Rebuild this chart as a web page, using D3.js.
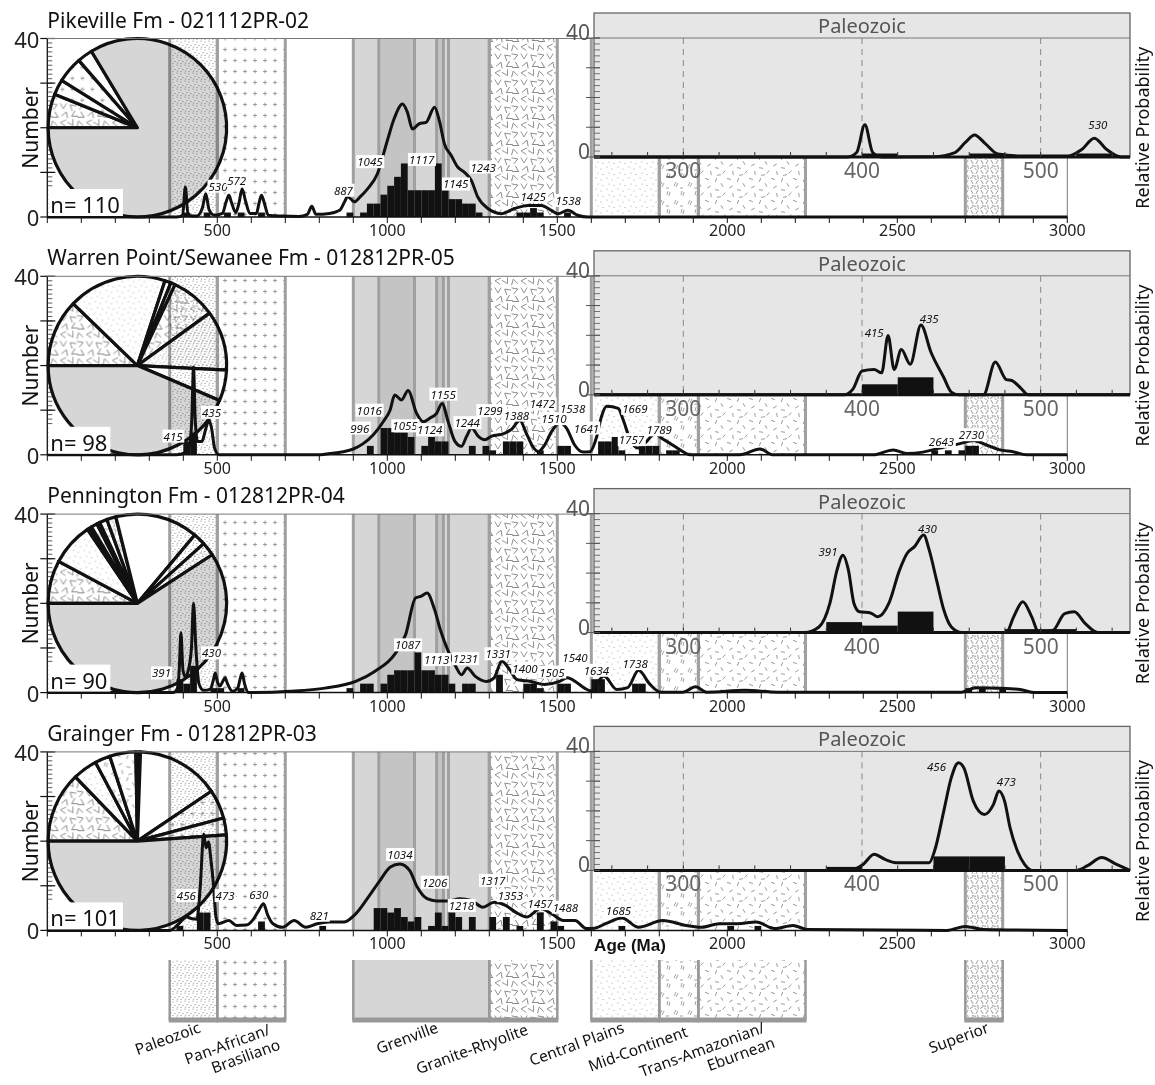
<!DOCTYPE html>
<html>
<head>
<meta charset="utf-8">
<script src="https://cdn.jsdelivr.net/npm/d3@7"></script>
<style>
  body { margin: 0; background: #fff; }
  svg { font-family: "Noto Sans", "Open Sans", sans-serif; }
</style>
</head>
<body>
<svg id="chart" width="1155" height="1085"></svg>
<script>
// ---------------- data ----------------
const ageTicks = [500, 1000, 1500, 2000, 2500, 3000]
const insetTicks = [300, 400, 500]
const binWidth = 20

const provinceNames = ['Paleozoic', 'Pan-African/Brasiliano', 'Grenville', 'Granite-Rhyolite',
  'Central Plains', 'Mid-Continent', 'Trans-Amazonian/Eburnean', 'Superior']
const provinceStart = [360, 500, 900, 1300, 1600, 1800, 1915, 2700]
const provinceEnd = [500, 700, 1300, 1500, 1800, 1915, 2230, 2810]
const provinceFill = ['paleo', 'panaf', 'grenville', 'granite', 'central', 'mid', 'trans', 'superior']
const legendLines = [['Paleozoic'], ['Pan-African/', 'Brasiliano'], ['Grenville'], ['Granite-Rhyolite'],
  ['Central Plains'], ['Mid-Continent'], ['Trans-Amazonian/', 'Eburnean'], ['Superior']]
const grenvilleDark = [[975, 1080], [1145, 1165]]
const grenvilleEdges = [975, 1080, 1145, 1165, 1180]

const titles = ['Pikeville Fm - 021112PR-02', 'Warren Point/Sewanee Fm - 012812PR-05',
  'Pennington Fm - 012812PR-04', 'Grainger Fm - 012812PR-03']
const nValues = [110, 98, 90, 101]

// Pikeville
const pikevilleCurve = [[0,0],[380,0],[398,0.4],[406,6.7],[414,0.4],[440,0.2],[456,2],[466,5.2],[476,1.6],[492,0.4],[515,0.8],[526,3.4],[534,4.9],[542,3.2],[554,1],[564,3.2],[573,6.3],[583,3.6],[596,0.8],[615,0.8],[623,3.2],[630,4.9],[638,3.2],[650,0.4],[690,0.2],[740,0.1],[765,0.6],[778,2.4],[790,0.6],[830,0.8],[860,1.5],[875,3.5],[883,4.6],[893,4],[903,3.4],[920,4.5],[942,6.3],[971,9.7],[1000,17.1],[1020,22],[1045,25.3],[1059,23.5],[1074,19.7],[1094,20.9],[1114,21.2],[1139,24.6],[1153,21.6],[1168,16.4],[1188,13.8],[1207,11.2],[1227,10],[1247,8.2],[1266,4.5],[1296,1.9],[1335,0.75],[1374,1.9],[1414,2.6],[1453,2.6],[1482,1.5],[1502,0.75],[1531,1.5],[1560,0.4],[1590,0],[3000,0]]
const pikevilleBars = [[400,1],[460,1],[520,1],[560,1],[620,1],[880,1],[920,1],[940,3],[960,3],[980,5],[1000,7],[1020,9],[1040,12],[1060,6],[1080,6],[1100,6],[1120,6],[1140,12],[1160,6],[1180,4],[1200,4],[1220,3],[1240,3],[1260,1],[1380,1],[1400,1],[1420,2],[1440,1],[1520,1]]
const pikevilleInset = [[250,0],[392,0],[397,1.5],[401.6,10.8],[406,1.5],[411,0],[440,0.1],[452,1.5],[458,5],[463,7.4],[469,4.5],[476,1],[490,0.3],[515,0.3],[523,2.5],[530,6.3],[537,2.5],[545,0],[550,0]]
const pikevillePie = [['granite',270,292],['panaf',292,302],['panaf',302,319],['blank',319,329],['grenville',329,630]]
const pikevilleLabels = [['530',502,6.9],['572',557,8.2],['887',871,6.0],['1045',949,12.4],['1117',1101,12.9],['1145',1201,7.4],['1243',1282,11.2],['1425',1429,4.6],['1538',1532,3.7]]
const pikevilleInsetLabels = [['530',532,10.8]]

// Warren Point / Sewanee
const warrenCurve = [[0,0],[380,0],[405,0.5],[418,2],[425,8],[430,19.7],[435,8],[442,3],[455,3],[465,5.5],[475,7.8],[483,6],[492,1.5],[505,0],[790,0],[831,0.3],[870,0.7],[900,1.3],[929,2.5],[959,4.5],[988,7.4],[1008,10],[1022,13.4],[1042,12.3],[1061,14.4],[1086,9.3],[1106,7.4],[1125,8.2],[1145,9.3],[1161,11.5],[1179,7.4],[1199,3],[1218,1.9],[1233,4.1],[1248,6],[1267,4.2],[1287,3.4],[1307,4.2],[1341,4.7],[1365,5.7],[1390,7.7],[1409,4.8],[1429,1.7],[1444,0.7],[1463,2.2],[1483,5.2],[1508,7.2],[1527,6],[1551,2.2],[1576,0.6],[1596,0.7],[1616,4.1],[1630,8.6],[1645,10.9],[1679,10.4],[1694,7.8],[1714,3.4],[1738,1.5],[1763,3],[1787,4.8],[1807,3.7],[1831,2.6],[1861,1.1],[1890,0],[2037,0],[2096,1.3],[2135,0],[2429,0],[2488,1.1],[2527,0.3],[2576,0.6],[2625,1.5],[2684,2.5],[2723,3.2],[2762,2.2],[2801,1.1],[2840,0.7],[2880,0],[3000,0]]
const warrenBars = [[400,3],[420,5],[940,2],[980,6],[1000,6],[1020,5],[1040,5],[1060,4],[1100,2],[1120,4],[1140,3],[1160,3],[1240,2],[1280,2],[1300,1],[1340,3],[1360,3],[1380,3],[1440,1],[1500,2],[1520,2],[1620,3],[1640,3],[1660,4],[1680,1],[1740,2],[1760,2],[1780,2],[1820,1],[1840,1],[2600,1],[2640,1],[2680,1],[2700,2],[2720,2]]
const warrenInset = [[250,0],[390,0],[395,2],[400,8],[406.8,8.5],[411,7.4],[414.6,19.9],[418,8.5],[422,15.2],[427,10.3],[433,23.5],[438.6,14.3],[445.7,5.9],[450,0.9],[454,0],[468,0],[474.6,11],[480.8,5.1],[483.8,4.8],[489,2.2],[493,0],[550,0]]
const warrenPie = [['granite',270,314],['central',314,378],['blank',378,382],['mid',382,385],['granite',385,414],['paleo',414,453],['blank',453,473],['grenville',473,630]]
const warrenLabels = [['415',370,4.2],['435',483,9.5],['996',919,6],['1016',947,10],['1055',1052,6.5],['1124',1125,5.6],['1155',1164,13.6],['1244',1235,7.2],['1299',1302,9.9],['1388',1380,8.9],['1472',1456,11.4],['1510',1490,8.1],['1538',1545,10.4],['1641',1586,6],['1669',1728,10.4],['1757',1718,3.4],['1789',1800,5.6],['2643',2630,3],['2730',2718,4.5]]
const warrenInsetLabels = [['415',406.8,20.8],['435',437.6,25.8]]

// Pennington
const penningtonCurve = [[0,0],[370,0],[383,1],[388,5],[393,13.4],[399,5],[406,3.5],[415,5.1],[424,10],[430,20],[437,10],[446,2],[460,0.5],[480,0.8],[489,3],[494,4.4],[500,2.5],[508,1.5],[516,2.5],[523,3.3],[530,2],[545,0.3],[560,1],[567,3],[573,4.4],[580,2],[592,0],[715,0.3],[817,1],[907,2.5],[964,4.8],[1021,8.5],[1054,13],[1083,21.2],[1100,21.6],[1117,22.3],[1139,18.6],[1156,14.1],[1179,9.3],[1201,5.9],[1218,4],[1235,5.5],[1258,3.7],[1292,2.5],[1314,3.3],[1337,7],[1360,5.1],[1382,2.9],[1422,2.5],[1462,1.8],[1507,2.5],[1529,3.3],[1558,2.2],[1580,1],[1599,0.4],[1637,3.7],[1675,0.7],[1707,1.1],[1739,5],[1772,1.9],[1804,0.1],[1869,0.1],[1907,1.3],[1939,0.1],[2052,0.5],[2149,0.1],[2689,0.1],[2731,1.1],[2800,1],[2861,0.7],[2905,0],[3000,0]]
const penningtonBars = [[380,3],[400,2],[420,6],[480,1],[500,1],[560,1],[880,1],[920,2],[940,2],[980,2],[1000,4],[1020,5],[1040,5],[1060,5],[1080,9],[1100,5],[1120,5],[1140,4],[1160,4],[1180,2],[1220,2],[1240,2],[1320,4],[1400,2],[1420,2],[1440,1],[1500,2],[1520,2],[1600,3],[1620,3],[1720,2],[1740,2],[2700,1],[2740,1],[2800,1]]
const penningtonInset = [[250,0],[367.8,0],[375.9,1.9],[382,9.8],[386,21],[389.3,26],[392.4,21],[395.5,9.8],[398.6,7],[404.8,6.6],[408.9,5.3],[415,9.8],[421,21],[425.2,26.6],[429.4,28.9],[434.5,32.8],[437.6,27.8],[441.7,17.7],[445.8,7.6],[449.9,2],[456,0],[480.7,0],[484.9,5.3],[490,10.4],[495,5.3],[499,0],[507,0.8],[513.4,6.4],[518.8,7],[525,3],[532,0],[550,0]]
const penningtonPie = [['granite',270,298],['central',298,326],['black',326,329],['mid',329,333],['black',333,335],['trans',335,340],['superior',340,346],['blank',346,400],['blank',400,408],['paleo',408,417],['grenville',417,630]]
const penningtonLabels = [['391',336,4.4],['430',483,8.9],['1087',1060,10.7],['1113',1145,7.4],['1231',1230,7.6],['1331',1326,8.7],['1400',1405,5.5],['1505',1484,4.6],['1540',1552,7.8],['1634',1615,5],['1738',1729,6.5]]
const penningtonInsetLabels = [['391',381,27.1],['430',436.6,35]]

// Grainger
const graingerCurve = [[0,0],[360,0],[387,1.5],[410,3],[426,2.6],[440,2.5],[450,10],[460,21.6],[467,18.5],[474,19.8],[481,16],[489,10],[496,3],[503,1.5],[534,2.2],[557,1.1],[585,1.2],[607,2.6],[622,4.5],[636,6],[648,3.5],[664,1.5],[692,0.7],[726,2.2],[760,0.7],[794,1.5],[828,1.9],[873,1.9],[907,3.7],[941,7.1],[975,10.8],[1009,14.2],[1037,14.9],[1066,13.4],[1088,9.7],[1117,7.1],[1145,6.6],[1179,6.6],[1213,7.1],[1247,6.7],[1281,5.2],[1314,6.3],[1348,5.6],[1377,4.1],[1411,3],[1450,4.9],[1484,3.7],[1518,2.2],[1552,2.2],[1586,0.4],[1610,0.5],[1642,1.5],[1690,2.8],[1739,0.7],[1810,2.2],[1880,1.1],[1923,0.7],[1977,1.5],[2031,1.5],[2085,1.9],[2139,0.4],[2193,1.1],[2236,0.2],[2646,0],[2700,0.9],[2754,0.2],[3000,0]]
const graingerBars = [[380,1],[440,4],[460,4],[620,2],[800,1],[960,5],[980,5],[1000,4],[1020,5],[1040,3],[1060,2],[1080,3],[1120,1],[1140,4],[1160,1],[1180,4],[1200,3],[1240,3],[1300,3],[1340,3],[1380,1],[1440,4],[1480,2],[1500,1],[1680,1],[2000,1],[2080,1]]
const graingerInset = [[250,0],[392.4,0],[400.6,2],[406.8,5.4],[412.9,3.7],[419,2.6],[437.6,2.6],[440.6,6.5],[445.8,20],[449.9,31],[454,36.2],[457,34.5],[462.3,23.3],[468.5,18.8],[473.6,22.2],[476.6,26.7],[479.8,23.3],[482.9,14.3],[487,6.5],[491,2],[495.2,0],[519.8,0],[526,1.5],[534.2,4.3],[542.5,2],[550,0]]
const graingerPie = [['granite',270,316],['central',316,332],['mid',332,342],['trans',342,359],['black',359,362],['blank',362,416],['panaf',416,435],['panaf',435,446],['grenville',446,630]]
const graingerLabels = [['456',409,7.8],['473',523,7.8],['630',622,8],['821',800,3.4],['1034',1037,17],['1206',1139,10.8],['1218',1218,5.6],['1317',1310,11.2],['1353',1362,7.8],['1457',1450,6],['1488',1524,5.2],['1685',1680,4.5]]
const graingerInsetLabels = [['456',441.7,35],['473',480.8,29.8]]

const samples = [
  { curve: pikevilleCurve, bars: pikevilleBars, inset: pikevilleInset, pie: pikevillePie, labels: pikevilleLabels, insetLabels: pikevilleInsetLabels },
  { curve: warrenCurve, bars: warrenBars, inset: warrenInset, pie: warrenPie, labels: warrenLabels, insetLabels: warrenInsetLabels },
  { curve: penningtonCurve, bars: penningtonBars, inset: penningtonInset, pie: penningtonPie, labels: penningtonLabels, insetLabels: penningtonInsetLabels },
  { curve: graingerCurve, bars: graingerBars, inset: graingerInset, pie: graingerPie, labels: graingerLabels, insetLabels: graingerInsetLabels },
]

// ---------------- drawing ----------------
const svg = d3.select('#chart')
const defs = svg.append('defs')

function tile(id, w, h, draw) {
  const p = defs.append('pattern').attr('id', id)
    .attr('patternUnits', 'userSpaceOnUse').attr('width', w).attr('height', h)
  p.append('rect').attr('width', w).attr('height', h).attr('fill', '#fff')
  draw(p)
}
// fine stipple
tile('paleo', 8, 8, p => {
  [[1,1],[5,2],[3,4.5],[7,5.5],[1.5,7],[5,7.5]].forEach(c =>
    p.append('circle').attr('cx', c[0]).attr('cy', c[1]).attr('r', 0.55).attr('fill', '#7a7a7a'))
})
// crosses
tile('panaf', 10, 11, p => {
  p.append('path').attr('d', 'M5,3.5v4M3,5.5h4').attr('stroke', '#8a8a8a').attr('stroke-width', 0.8)
})
// chevrons
tile('granite', 26, 26, p => {
  [[4,4,0],[13,5,130],[21,4,250],[6,13,200],[15,13,60],[22,14,300],[4,21,95],[12,21,330],[20,22,165]].forEach(v =>
    p.append('path').attr('d', 'M-3.2,-2.5L0,3L3.2,-2.5')
      .attr('transform', `translate(${v[0]},${v[1]}) rotate(${v[2]})`)
      .attr('fill', 'none').attr('stroke', '#8a8a8a').attr('stroke-width', 0.9))
})
// sparse stipple
tile('central', 11, 11, p => {
  [[2,2],[7,4],[4,8],[9,9.5]].forEach(c =>
    p.append('circle').attr('cx', c[0]).attr('cy', c[1]).attr('r', 0.5).attr('fill', '#8a8a8a'))
})
// double dashes
tile('mid', 14, 18, p => {
  p.append('path').attr('d', 'M2,6l2,-4M4,7l2,-4M9,15l1,-4M11,16l1,-4M8,8h3')
    .attr('stroke', '#8a8a8a').attr('stroke-width', 0.8)
})
// scattered dashes
tile('trans', 22, 22, p => {
  [[3,3,20],[12,4,110],[18,9,60],[5,11,150],[13,14,10],[20,18,130],[7,19,80],[15,21,170]].forEach(v =>
    p.append('path').attr('d', 'M-2,0H2').attr('transform', `translate(${v[0]},${v[1]}) rotate(${v[2]})`)
      .attr('stroke', '#8a8a8a').attr('stroke-width', 0.8))
})
// dense strokes
tile('superior', 10, 10, p => {
  [[2,2,60],[7,2,120],[4,6,10],[8,7,80],[1,8,150],[6,9.5,40]].forEach(v =>
    p.append('path').attr('d', 'M-2.2,0H2.2').attr('transform', `translate(${v[0]},${v[1]}) rotate(${v[2]})`)
      .attr('stroke', '#8a8a8a').attr('stroke-width', 0.8))
})

const fillOf = k => k === 'grenville' ? '#d6d6d6' : k === 'blank' ? '#fff' : k === 'black' ? '#111' : `url(#${k})`

const x = d3.scaleLinear().domain([0, 3000]).range([47.3, 1067.3])
const xi = d3.scaleLinear().domain([250, 550]).range([594, 1130])
const rad = d => d * Math.PI / 180
const provinces = provinceNames.map((name, i) => ({ name, start: provinceStart[i], end: provinceEnd[i], fill: provinceFill[i] }))

function peakLabel(g, text, px, py, boxed) {
  const lg = g.append('g')
  const t = lg.append('text').attr('x', px).attr('y', py).attr('text-anchor', 'middle')
    .attr('dominant-baseline', 'central').attr('font-size', 11.5).attr('font-style', 'italic')
    .attr('fill', '#111').text(text)
  if (boxed) {
    const b = t.node().getBBox()
    lg.insert('rect', 'text').attr('x', b.x - 1).attr('y', b.y + 1).attr('width', b.width + 2)
      .attr('height', b.height - 2).attr('fill', '#fff')
  }
}

samples.forEach((s, i) => {
  const base = 217 + 237.8 * i
  const y = d3.scaleLinear().domain([0, 40]).range([base, base - 178.5])
  const g = svg.append('g')

  // y axis (under the pie)
  g.append('line').attr('x1', x(0)).attr('x2', x(0)).attr('y1', y(0)).attr('y2', y(40)).attr('stroke', '#111').attr('stroke-width', 1.3)
  g.selectAll('.minor').data(d3.range(0, 41)).join('line')
    .attr('x1', x(0)).attr('x2', x(0) + 5).attr('y1', d => y(d)).attr('y2', d => y(d))
    .attr('stroke', '#333').attr('stroke-width', 0.8)
  g.selectAll('.major').data(d3.range(0, 41, 10)).join('line')
    .attr('x1', x(0) - 7).attr('x2', x(0) + 8).attr('y1', d => y(d)).attr('y2', d => y(d))
    .attr('stroke', '#111').attr('stroke-width', 1.2)
  g.selectAll('.ylab').data([0, 40]).join('text')
    .attr('x', x(0) - 8).attr('y', d => y(d)).attr('text-anchor', 'end').attr('dominant-baseline', 'central')
    .attr('font-size', 22).attr('fill', '#222').text(d => d)

  // pie of province proportions
  const pieR = (y(0) - y(40)) / 2
  const arc = d3.arc().innerRadius(0).outerRadius(pieR)
  g.append('g').attr('transform', `translate(${x(265)},${y(20)})`)
    .selectAll('path').data(s.pie).join('path')
    .attr('d', d => arc({ startAngle: rad(d[1]), endAngle: rad(d[2]) }))
    .attr('fill', d => fillOf(d[0]))
    .attr('stroke', '#111').attr('stroke-width', 3.2).attr('stroke-linejoin', 'round')

  // province bands
  const bg = g.append('g').style('mix-blend-mode', 'multiply')
  bg.selectAll('.band').data(provinces).join('rect')
    .attr('x', d => x(d.start)).attr('width', d => x(d.end) - x(d.start))
    .attr('y', y(40)).attr('height', y(0) - y(40))
    .attr('fill', d => fillOf(d.fill))
  bg.selectAll('.dark').data(grenvilleDark).join('rect')
    .attr('x', d => x(d[0])).attr('width', d => x(d[1]) - x(d[0]))
    .attr('y', y(40)).attr('height', y(0) - y(40)).attr('fill', '#c4c4c4')
  const edges = provinces.flatMap(p => [p.start, p.end]).concat(grenvilleEdges)
  bg.selectAll('.edge').data(edges).join('line')
    .attr('x1', d => x(d)).attr('x2', d => x(d)).attr('y1', y(40)).attr('y2', y(0))
    .attr('stroke', '#a0a0a0').attr('stroke-width', 3)

  // frame lines
  g.append('line').attr('x1', x(0)).attr('x2', x(3000)).attr('y1', y(40)).attr('y2', y(40)).attr('stroke', '#777').attr('stroke-width', 1)
  g.append('line').attr('x1', x(3000)).attr('x2', x(3000)).attr('y1', y(40)).attr('y2', y(0)).attr('stroke', '#777').attr('stroke-width', 1)

  // histogram
  g.selectAll('.bar').data(s.bars).join('rect')
    .attr('x', d => x(d[0])).attr('width', d => x(d[0] + binWidth) - x(d[0]))
    .attr('y', d => y(d[1])).attr('height', d => y(0) - y(d[1])).attr('fill', '#111')

  // probability curve
  const line = d3.line().x(d => x(d[0])).y(d => y(d[1])).curve(d3.curveMonotoneX)
  g.append('path').datum(s.curve).attr('d', line).attr('fill', 'none')
    .attr('stroke', '#111').attr('stroke-width', 3).attr('stroke-linejoin', 'round')

  s.labels.forEach(d => peakLabel(g, d[0], x(d[1]), y(d[2]), true))

  // x axis
  g.append('line').attr('x1', x(0)).attr('x2', x(3000)).attr('y1', y(0)).attr('y2', y(0)).attr('stroke', '#111').attr('stroke-width', 1.5)
  g.selectAll('.xt').data(d3.range(0, 3001, 100)).join('line')
    .attr('x1', d => x(d)).attr('x2', d => x(d)).attr('y1', y(0)).attr('y2', y(0) + 6)
    .attr('stroke', '#111').attr('stroke-width', 1)
  g.selectAll('.xl').data(ageTicks).join('text')
    .attr('x', d => x(d)).attr('y', y(0) + 19).attr('text-anchor', 'middle')
    .attr('font-size', 16).attr('fill', '#222').text(d => d)

  // Paleozoic inset
  const iTop = base - 204, iHdr = base - 179, iBase = base - 60
  const yi = d3.scaleLinear().domain([0, 40]).range([iBase, iHdr])
  const ybi = d3.scaleLinear().domain([0, 34]).range([iBase, iHdr])
  const ig = g.append('g')
  ig.append('rect').attr('x', xi(250)).attr('y', iTop).attr('width', xi(550) - xi(250)).attr('height', iBase - iTop)
    .attr('fill', '#e6e6e6').attr('stroke', '#666').attr('stroke-width', 1.3)
  ig.append('line').attr('x1', xi(250)).attr('x2', xi(550)).attr('y1', iHdr).attr('y2', iHdr).attr('stroke', '#777').attr('stroke-width', 1)
  ig.append('text').attr('x', xi(400)).attr('y', (iTop + iHdr) / 2).attr('text-anchor', 'middle')
    .attr('dominant-baseline', 'central').attr('font-size', 20).attr('fill', '#555').text('Paleozoic')
  ig.selectAll('.grid').data(insetTicks).join('line')
    .attr('x1', d => xi(d)).attr('x2', d => xi(d)).attr('y1', iHdr).attr('y2', iBase)
    .attr('stroke', '#888').attr('stroke-dasharray', '6,5').attr('stroke-width', 1)
  ig.selectAll('.ibar').data(s.bars.filter(d => d[0] >= 250 && d[0] + binWidth <= 550)).join('rect')
    .attr('x', d => xi(d[0])).attr('width', d => xi(d[0] + binWidth) - xi(d[0]))
    .attr('y', d => ybi(d[1])).attr('height', d => iBase - ybi(d[1])).attr('fill', '#111')
  const iline = d3.line().x(d => xi(d[0])).y(d => yi(d[1])).curve(d3.curveMonotoneX)
  ig.append('path').datum(s.inset).attr('d', iline).attr('fill', 'none')
    .attr('stroke', '#111').attr('stroke-width', 3).attr('stroke-linejoin', 'round')
  ig.append('line').attr('x1', xi(250)).attr('x2', xi(550)).attr('y1', iBase).attr('y2', iBase).attr('stroke', '#111').attr('stroke-width', 3)
  ig.selectAll('.ixt').data(d3.range(260, 550, 20)).join('line')
    .attr('x1', d => xi(d)).attr('x2', d => xi(d)).attr('y1', iBase).attr('y2', iBase - 5)
    .attr('stroke', '#333').attr('stroke-width', 1)
  ig.selectAll('.iyt').data(d3.range(0, 41, 2)).join('line')
    .attr('x1', xi(250)).attr('x2', xi(250) + 6).attr('y1', d => yi(d)).attr('y2', d => yi(d))
    .attr('stroke', '#555').attr('stroke-width', 0.8)
  ig.selectAll('.iym').data(d3.range(0, 41, 10)).join('line')
    .attr('x1', xi(250) - 8).attr('x2', xi(250) + 6).attr('y1', d => yi(d)).attr('y2', d => yi(d))
    .attr('stroke', '#555').attr('stroke-width', 1)
  ig.selectAll('.iyl').data([0, 40]).join('text')
    .attr('x', xi(250) - 4).attr('y', d => yi(d) - 6).attr('text-anchor', 'end').attr('dominant-baseline', 'central')
    .attr('font-size', 21).attr('fill', '#555').text(d => d)
  ig.selectAll('.ixl').data(insetTicks).join('text')
    .attr('x', d => xi(d)).attr('y', iBase + 21).attr('text-anchor', 'middle')
    .attr('font-size', 21).attr('fill', '#666').text(d => d)
  s.insetLabels.forEach(d => peakLabel(ig, d[0], xi(d[1]), yi(d[2]), false))

  // texts
  const nb = g.append('g')
  const nt = nb.append('text').attr('x', x(0) + 3).attr('y', y(0) - 4).attr('font-size', 22).attr('fill', '#111').text('n= ' + nValues[i])
  const b = nt.node().getBBox()
  nb.insert('rect', 'text').attr('x', x(0) + 1).attr('y', b.y).attr('width', b.width + 5).attr('height', y(0) - 1 - b.y).attr('fill', '#fff')
  g.append('text').attr('x', x(0)).attr('y', y(40) - 11).attr('font-size', 21).attr('fill', '#111').text(titles[i])
  g.append('text').attr('transform', `translate(${30},${y(20)}) rotate(-90)`).attr('text-anchor', 'middle')
    .attr('dominant-baseline', 'central').attr('font-size', 21).attr('fill', '#111').text('Number')
  g.append('text').attr('transform', `translate(${1142},${y(20)}) rotate(-90)`).attr('text-anchor', 'middle')
    .attr('dominant-baseline', 'central').attr('font-size', 18).attr('fill', '#111').text('Relative Probability')
})

// axis title
svg.append('text').attr('x', 630).attr('y', 951).attr('text-anchor', 'middle')
  .attr('font-family', '"Liberation Sans Narrow", "Liberation Sans", sans-serif')
  .attr('font-weight', 'bold').attr('font-size', 17).attr('fill', '#111').text('Age (Ma)')

// province legend
const legTop = 960, legBottom = 1020
const lg = svg.append('g')
lg.selectAll('.lbox').data(provinces).join('rect')
  .attr('x', d => x(d.start)).attr('width', d => x(d.end) - x(d.start))
  .attr('y', legTop).attr('height', legBottom - legTop).attr('fill', d => fillOf(d.fill))
lg.selectAll('.lside').data(provinces.flatMap(p => [p.start, p.end])).join('line')
  .attr('x1', d => x(d)).attr('x2', d => x(d)).attr('y1', legTop).attr('y2', legBottom)
  .attr('stroke', '#999').attr('stroke-width', 2.5)
lg.selectAll('.lfoot').data(provinces).join('line')
  .attr('x1', d => x(d.start) - 1).attr('x2', d => x(d.end) + 1).attr('y1', legBottom).attr('y2', legBottom)
  .attr('stroke', '#999').attr('stroke-width', 5)

const legendShift = [[8, 0], [20, 2], [18, 0], [6, 2], [0, 0], [10, 4], [14, 0], [6, 0]]
provinces.forEach((p, i) => {
  const cx = x((p.start + p.end) / 2) + legendShift[i][0]
  const cy = legBottom + 12 + legendShift[i][1]
  legendLines[i].forEach((t, j) => {
    lg.append('text').attr('transform', `translate(${cx + j * 10},${cy + j * 15}) rotate(-20)`)
      .attr('text-anchor', 'end').attr('font-size', 15.5).attr('fill', '#111').text(t)
  })
})
</script>
</body>
</html>
